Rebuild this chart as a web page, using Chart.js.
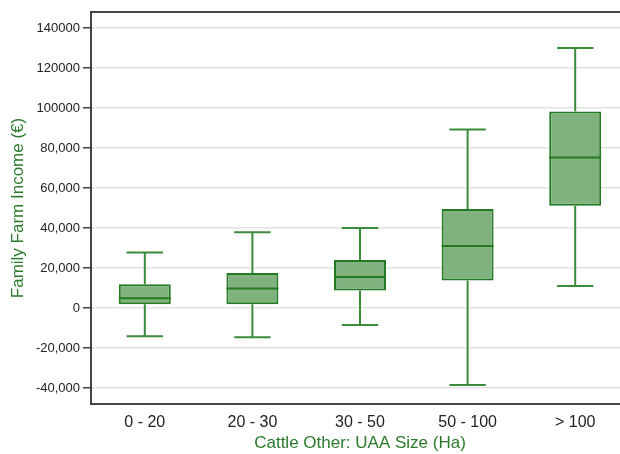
<!DOCTYPE html>
<html>
<head>
<meta charset="utf-8">
<script src="https://cdn.jsdelivr.net/npm/chart.js@4/dist/chart.umd.min.js"></script>
<style>
  html, body { margin: 0; padding: 0; background: #fff; overflow: hidden; }
  canvas { display: block; }
</style>
</head>
<body>
<canvas id="myChart" width="640" height="454"></canvas>
<script>
// Box plot data
const categories = ['0 - 20', '20 - 30', '30 - 50', '50 - 100', '> 100'];
const whiskerLow = [-14100, -14600, -8500, -38500, 11000];
const quartile1 = [1900, 1900, 8700, 13700, 51100];
const medians = [4900, 9700, 15500, 31000, 75200];
const quartile3 = [11900, 17500, 24000, 49500, 98200];
const whiskerHigh = [27700, 37900, 40000, 89200, 130000];

// Y axis ticks (labels as printed in the original)
const yTickValues = [-40000, -20000, 0, 20000, 40000, 60000, 80000, 100000, 120000, 140000];
const yTickLabels = ['-40,000', '-20,000', '0', '20,000', '40,000', '60,000', '80,000', '100000', '120000', '140000'];

const green = '#2b7a2b';
const boxLine = '#237a23';
const whiskerColor = '#3a8c3a';

Chart.defaults.font.family = '"Liberation Sans", Arial, sans-serif';
Chart.defaults.color = '#222';

// draws whiskers, caps and the median line using the scales
const boxPlotExtras = {
    id: 'boxPlotExtras',
    afterDatasetsDraw(chart) {
        const ctx = chart.ctx;
        const y = chart.scales.y;
        const meta = chart.getDatasetMeta(0);
        ctx.save();
        meta.data.forEach((bar, i) => {
            const cx = bar.x;
            const half = bar.width / 2;
            const cap = bar.width * 0.35;
            const yLow = y.getPixelForValue(whiskerLow[i]);
            const yHigh = y.getPixelForValue(whiskerHigh[i]);
            const yQ1 = y.getPixelForValue(quartile1[i]);
            const yQ3 = y.getPixelForValue(quartile3[i]);
            const yMed = y.getPixelForValue(medians[i]);

            ctx.strokeStyle = whiskerColor;
            ctx.lineWidth = 2;
            ctx.beginPath();
            ctx.moveTo(cx, yQ3); ctx.lineTo(cx, yHigh);
            ctx.moveTo(cx - cap, yHigh); ctx.lineTo(cx + cap, yHigh);
            ctx.moveTo(cx, yQ1); ctx.lineTo(cx, yLow);
            ctx.moveTo(cx - cap, yLow); ctx.lineTo(cx + cap, yLow);
            ctx.stroke();

            ctx.strokeStyle = boxLine;
            ctx.lineWidth = 2;
            ctx.beginPath();
            ctx.moveTo(cx - half, yMed); ctx.lineTo(cx + half, yMed);
            ctx.stroke();
        });
        // top frame line
        const a = chart.chartArea;
        ctx.strokeStyle = '#444';
        ctx.lineWidth = 2;
        ctx.beginPath();
        ctx.moveTo(a.left, a.top);
        ctx.lineTo(a.right, a.top);
        ctx.lineTo(a.right, a.bottom);
        ctx.stroke();
        ctx.restore();
    }
};

const ctx = document.getElementById('myChart').getContext('2d');

const myChart = new Chart(ctx, {
    type: 'bar',
    data: {
        labels: categories,
        datasets: [{
            label: 'Family Farm Income',
            data: categories.map((c, i) => [quartile1[i], quartile3[i]]),
            backgroundColor: '#80b27e',
            borderColor: boxLine,
            borderWidth: 2,
            borderSkipped: false,
            barPercentage: 0.483,
            categoryPercentage: 1
        }]
    },
    plugins: [boxPlotExtras],
    options: {
        responsive: false,
        animation: false,
        devicePixelRatio: 1,
        layout: { padding: { left: 0, top: 12, right: 11, bottom: 0 } },
        plugins: {
            legend: { display: false },
            tooltip: { enabled: false }
        },
        scales: {
            x: {
                grid: { display: false },
                border: { display: true, color: '#444', width: 2 },
                ticks: { font: { size: 16 }, color: '#222', padding: 1 },
                title: {
                    display: true,
                    text: 'Cattle Other: UAA Size (Ha)',
                    color: green,
                    font: { size: 17 },
                    padding: { top: 0, bottom: 0 }
                },
                afterFit: (scale) => { scale.height = 50; }
            },
            y: {
                min: -48000,
                max: 148000,
                afterBuildTicks: (scale) => {
                    scale.ticks = yTickValues.map(v => ({ value: v }));
                },
                grid: { color: '#e2e2e2', lineWidth: 1.5, tickColor: '#444', tickLength: 8 },
                border: { display: true, color: '#444', width: 2 },
                ticks: {
                    font: { size: 13 },
                    color: '#222',
                    padding: 3,
                    callback: (value, index) => yTickLabels[index]
                },
                title: {
                    display: true,
                    text: 'Family Farm Income (€)',
                    color: green,
                    font: { size: 17 },
                    padding: { top: 8, bottom: 0 }
                },
                afterFit: (scale) => { scale.width = 91; }
            }
        }
    }
});
</script>
</body>
</html>
